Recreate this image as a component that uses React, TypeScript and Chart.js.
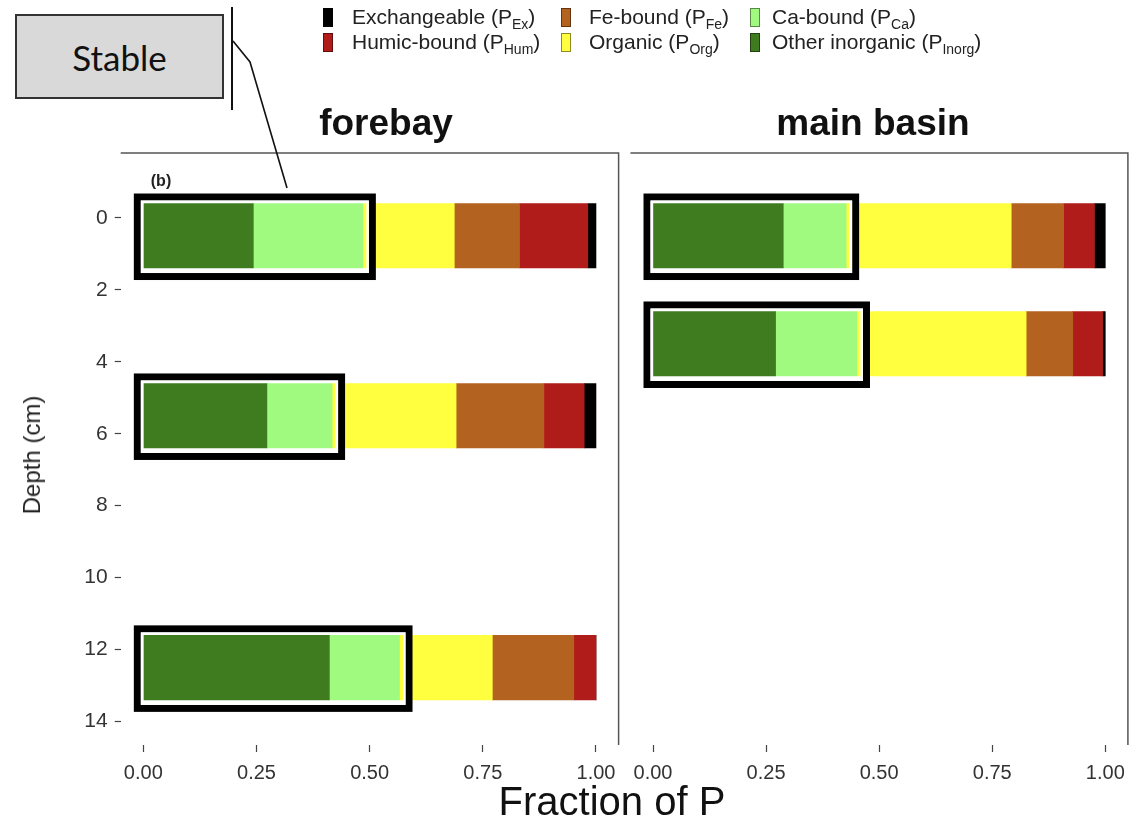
import React, { useEffect, useRef } from "react";
import { Chart, registerables } from "chart.js";

Chart.register(...registerables);

// ---------- data ----------
const depthTicks = [0, 2, 4, 6, 8, 10, 12, 14];
const fractionTicks = [0, 0.25, 0.5, 0.75, 1];
const panelTitles = ["forebay", "main basin"];

const forebayDepths = [0.5, 5.5, 12.5];
const mainDepths = [0.5, 3.5];

// series order = stacking order from 0 to 1
const seriesNames = ["Other inorganic", "Ca-bound", "Organic", "Fe-bound", "Humic-bound", "Exchangeable"];
const seriesSubs = ["Inorg", "Ca", "Org", "Fe", "Hum", "Ex"];
const seriesColors = ["#3f7b1f", "#a0fa80", "#ffff40", "#b4621f", "#b01c1a", "#000000"];
// legend layout (column-major: col1 rows, col2 rows, col3 rows)
const legendOrder = [5, 4, 3, 2, 1, 0];

const forebayOtherInorganic = [0.243, 0.273, 0.411];
const forebayCaBound = [0.242, 0.144, 0.155];
const forebayOrganic = [0.202, 0.274, 0.205];
const forebayFeBound = [0.144, 0.194, 0.18];
const forebayHumic = [0.151, 0.089, 0.049];
const forebayExchangeable = [0.018, 0.026, 0.0];

const mainOtherInorganic = [0.288, 0.271];
const mainCaBound = [0.139, 0.18];
const mainOrganic = [0.365, 0.374];
const mainFeBound = [0.116, 0.103];
const mainHumic = [0.068, 0.066];
const mainExchangeable = [0.024, 0.006];

const forebaySeries = [forebayOtherInorganic, forebayCaBound, forebayOrganic, forebayFeBound, forebayHumic, forebayExchangeable];
const mainSeries = [mainOtherInorganic, mainCaBound, mainOrganic, mainFeBound, mainHumic, mainExchangeable];

// ---------- layout ----------
const W = 1134;
const H = 835;
const PANEL_TOP = 153;
const X_AXIS_H = 90;
const LEFT_PANEL = [120.7, 618.6];
const RIGHT_PANEL = [630.4, 1128.6];
const Y_MIN = -1.8;
const Y_MAX = 14.65;
const BAR_PX = 64.5;
const SANS = "'Liberation Sans', Arial, sans-serif";

const panelDecor = {
  id: "panelDecor",
  afterDatasetsDraw(chart: any) {
    const { ctx, chartArea } = chart;
    ctx.save();
    // stable boxes around the first two stacked series
    const m0 = chart.getDatasetMeta(0);
    const m1 = chart.getDatasetMeta(1);
    m0.data.forEach((el0: any, i: number) => {
      const el1: any = m1.data[i];
      const left = Math.min(el0.base, el0.x) - 10;
      const right = el1.x + 13;
      const top = el0.y - BAR_PX / 2 - 10;
      const bottom = el0.y + BAR_PX / 2 + 12;
      ctx.lineWidth = 7;
      ctx.strokeStyle = "#000";
      ctx.strokeRect(left + 3.5, top + 3.5, right - left - 7, bottom - top - 7);
      ctx.lineWidth = 2.5;
      ctx.strokeStyle = "#fff";
      ctx.strokeRect(left + 8.25, top + 8.25, right - left - 16.5, bottom - top - 16.5);
    });
    // panel border: top and right
    ctx.strokeStyle = "#555";
    ctx.lineWidth = 1.5;
    ctx.beginPath();
    ctx.moveTo(chartArea.left, chartArea.top);
    ctx.lineTo(chartArea.right, chartArea.top);
    ctx.lineTo(chartArea.right, chartArea.bottom);
    ctx.stroke();
    ctx.restore();
  },
};

function makeConfig(depths: number[], series: number[][], isLeft: boolean, panel: number[]): any {
  return {
    type: "bar",
    data: {
      datasets: series.map((vals, k) => ({
        label: seriesNames[k],
        data: depths.map((d, i) => ({ x: vals[i], y: d })),
        backgroundColor: seriesColors[k],
        borderWidth: 0,
        barThickness: BAR_PX,
      })),
    },
    options: {
      indexAxis: "y",
      animation: false,
      responsive: false,
      maintainAspectRatio: false,
      layout: {
        padding: { left: isLeft ? 0 : panel[0], right: W - panel[1], top: PANEL_TOP, bottom: 0 },
      },
      plugins: { legend: { display: false }, tooltip: { enabled: false }, title: { display: false } },
      scales: {
        x: {
          type: "linear",
          stacked: true,
          min: -0.05,
          max: 1.05,
          offset: false,
          afterBuildTicks: (a: any) => {
            a.ticks = fractionTicks.map((v) => ({ value: v }));
          },
          afterFit: (s: any) => {
            s.height = X_AXIS_H;
          },
          grid: { display: true, offset: false, drawOnChartArea: false, drawTicks: true, tickLength: 7, tickColor: "#444", tickWidth: 1.2 },
          border: { display: false },
          ticks: {
            padding: 9,
            color: "#333",
            font: { family: SANS, size: 20 },
            maxRotation: 0,
            callback: (v: any) => Number(v).toFixed(2),
          },
        },
        y: {
          type: "linear",
          stacked: true,
          reverse: true,
          offset: false,
          min: Y_MIN,
          max: Y_MAX,
          display: isLeft,
          afterBuildTicks: (a: any) => {
            a.ticks = depthTicks.map((v) => ({ value: v }));
          },
          afterFit: (s: any) => {
            s.width = isLeft ? panel[0] : 0;
          },
          grid: { display: true, offset: false, drawOnChartArea: false, drawTicks: true, tickLength: 6, tickColor: "#444", tickWidth: 1.2 },
          border: { display: false },
          ticks: {
            padding: 7,
            color: "#333",
            font: { family: SANS, size: 21 },
            callback: (v: any) => String(v),
          },
        },
      },
    },
    plugins: [panelDecor],
  };
}

function PanelChart({ depths, series, isLeft, panel }: { depths: number[]; series: number[][]; isLeft: boolean; panel: number[] }) {
  const ref = useRef<HTMLCanvasElement | null>(null);
  useEffect(() => {
    if (!ref.current) return;
    const chart = new Chart(ref.current, makeConfig(depths, series, isLeft, panel));
    return () => chart.destroy();
  }, []);
  return (
    <canvas
      ref={ref}
      width={W}
      height={H}
      style={{ position: "absolute", left: 0, top: 0, width: W, height: H }}
    />
  );
}

const textBase: React.CSSProperties = {
  position: "absolute",
  transform: "translate(-50%, -50%)",
  whiteSpace: "nowrap",
  fontFamily: SANS,
  color: "#111",
  lineHeight: 1,
};

export default function App() {
  const legendCols = [
    { sw: 323, tx: 352 },
    { sw: 561, tx: 589 },
    { sw: 750, tx: 772 },
  ];
  const legendRows = [8, 33];
  return (
    <div style={{ position: "absolute", left: 0, top: 0, width: W, height: H, background: "#fff", overflow: "hidden" }}>
      <PanelChart depths={forebayDepths} series={forebaySeries} isLeft={true} panel={LEFT_PANEL} />
      <PanelChart depths={mainDepths} series={mainSeries} isLeft={false} panel={RIGHT_PANEL} />

      {/* legend */}
      {legendOrder.map((k, n) => {
        const col = legendCols[Math.floor(n / 2)];
        const rowTop = legendRows[n % 2];
        return (
          <React.Fragment key={k}>
            <div
              style={{
                position: "absolute",
                left: col.sw,
                top: rowTop,
                width: 10,
                height: 19,
                background: seriesColors[k],
                boxSizing: "border-box",
                border: "1px solid rgba(0,0,0,0.45)",
              }}
            />
            <div
              style={{
                position: "absolute",
                left: col.tx,
                top: rowTop + 9.5,
                transform: "translateY(-50%)",
                fontFamily: SANS,
                fontSize: 21,
                color: "#222",
                whiteSpace: "nowrap",
                lineHeight: 1,
              }}
            >
              {seriesNames[k]} (P<sub style={{ fontSize: 14, verticalAlign: "-5px", lineHeight: 1 }}>{seriesSubs[k]}</sub>)
            </div>
          </React.Fragment>
        );
      })}

      {/* facet titles */}
      <div style={{ ...textBase, left: 386, top: 122, fontSize: 37, fontWeight: "bold" }}>{panelTitles[0]}</div>
      <div style={{ ...textBase, left: 873, top: 122, fontSize: 37, fontWeight: "bold" }}>{panelTitles[1]}</div>

      {/* panel tag */}
      <div style={{ ...textBase, left: 161, top: 181, fontSize: 16, fontWeight: "bold", color: "#222" }}>(b)</div>

      {/* axis titles */}
      <div style={{ ...textBase, left: 32, top: 455, fontSize: 24, color: "#222", transform: "translate(-50%, -50%) rotate(-90deg)" }}>
        Depth (cm)
      </div>
      <div style={{ ...textBase, left: 612, top: 801, fontSize: 40 }}>Fraction of P</div>

      {/* Stable callout */}
      <div
        style={{
          position: "absolute",
          left: 15,
          top: 14,
          width: 209,
          height: 85,
          boxSizing: "border-box",
          background: "#d9d9d9",
          border: "2px solid #333",
          display: "flex",
          alignItems: "center",
          justifyContent: "center",
          fontFamily: "Lato, 'Open Sans', sans-serif",
          fontSize: 35,
          color: "#111",
        }}
      >
        Stable
      </div>
      <svg width={W} height={H} style={{ position: "absolute", left: 0, top: 0, pointerEvents: "none" }}>
        <line x1={232} y1={7} x2={232} y2={110} stroke="#111" strokeWidth={2} />
        <polyline points="233,41 250,62 287,188" fill="none" stroke="#111" strokeWidth={1.6} />
      </svg>
    </div>
  );
}
